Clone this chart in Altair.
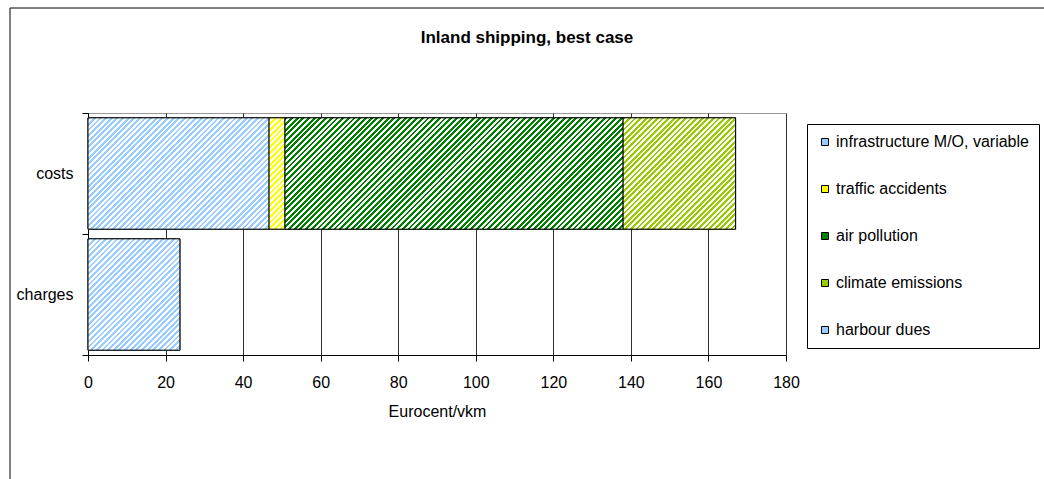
import math

import altair as alt
import pandas as pd

# --- data -----------------------------------------------------------------
title = "Inland shipping, best case"
categories = ["costs", "charges"]
series = [
    "infrastructure M/O, variable",
    "traffic accidents",
    "air pollution",
    "climate emissions",
    "harbour dues",
]
costs = [46.7, 4.1, 87.2, 29.0, 0.0]
charges = [0.0, 0.0, 0.0, 0.0, 23.7]
x_ticks = [0, 20, 40, 60, 80, 100, 120, 140, 160, 180]

# --- style ----------------------------------------------------------------
FONT = "Liberation Sans"
series_colors = ["#99CCFF", "#FFFF00", "#008000", "#99CC00", "#99CCFF"]
PLOT_W, PLOT_H = 698, 242
X_MAX = 180
BAR_BAND = 0.92          # bar thickness as a share of the category band
STRIPE_PERIOD = 4.0      # px, measured across the stripes

rows = []
for cat, vals in zip(categories, [costs, charges]):
    acc = 0.0
    for name, v in zip(series, vals):
        if v > 0:
            rows.append(dict(category=cat, series=name, value=v, start=acc, end=acc + v))
            acc += v
df = pd.DataFrame(rows)

# bar thickness in px, used to keep the hatch at 45 degrees
bar_h = BAR_BAND * PLOT_H / len(categories)
px_per_unit = PLOT_W / X_MAX


def hatch(color, w, h):
    """Diagonal two-colour stripes as a hard-stop linear gradient."""
    s = (w + h) / (w * w + h * h)
    n = max(1, round((w + h) / math.sqrt(2) / STRIPE_PERIOD))
    stops = []
    for i in range(n):
        a, b, c = i / n, (i + 0.5) / n, (i + 1) / n
        stops += [
            alt.GradientStop(offset=a, color=color),
            alt.GradientStop(offset=b, color=color),
            alt.GradientStop(offset=b, color="white"),
            alt.GradientStop(offset=c, color="white"),
        ]
    return alt.LinearGradient(gradient="linear", x1=0, y1=0, x2=w * s, y2=h * s, stops=stops)


x_enc = alt.X(
    "start:Q",
    scale=alt.Scale(domain=[0, X_MAX]),
    axis=alt.Axis(
        values=x_ticks,
        title="Eurocent/vkm",
        grid=True,
        gridColor="#303030",
        gridWidth=1,
        domainColor="black",
        tickColor="black",
        tickSize=6,
        labelPadding=13,
        labelFlush=False,
        titlePadding=13,
    ),
)
y_enc = alt.Y(
    "category:N",
    sort=categories,
    scale=alt.Scale(paddingInner=0, paddingOuter=0),
    axis=alt.Axis(
        title=None,
        tickBand="extent",
        domainColor="black",
        tickColor="black",
        tickSize=6,
        labelPadding=9,
    ),
)
bar_size = alt.RelativeBandSize(band=BAR_BAND)

base = alt.Chart(df).mark_bar(stroke="black", strokeWidth=1, height=bar_size).encode(
    x=x_enc,
    x2="end:Q",
    y=y_enc,
    color=alt.Color(
        "series:N",
        scale=alt.Scale(domain=series, range=series_colors),
        legend=alt.Legend(
            title=None,
            orient="none",
            legendX=719,
            legendY=11,
            strokeColor="black",
            padding=10,
            rowPadding=31,
            labelFontSize=16,
            labelFont=FONT,
            labelColor="black",
            labelLimit=400,
            symbolType="square",
            symbolSize=49,
            symbolStrokeColor="black",
            symbolStrokeWidth=1,
            symbolOpacity=1,
            labelOffset=3,
        ),
    ),
)

layers = [base]
for _, r in df.iterrows():
    color = series_colors[series.index(r["series"])]
    fill = hatch(color, r["value"] * px_per_unit, bar_h)
    layers.append(
        alt.Chart(df)
        .transform_filter((alt.datum.series == r["series"]) & (alt.datum.category == r["category"]))
        .mark_bar(fill=fill, stroke="black", strokeWidth=1, height=bar_size)
        .encode(x="start:Q", x2="end:Q", y=alt.Y("category:N", sort=categories))
    )

# chart title and outer border
heading = alt.Chart(pd.DataFrame({"t": [title]})).mark_text(
    font=FONT, fontSize=17, fontWeight="bold", color="black", align="center", baseline="middle"
).encode(text="t:N", x=alt.value(439), y=alt.value(-75))
frame = alt.Chart(pd.DataFrame({"k": [0]})).mark_rect(
    filled=False, stroke="black", strokeWidth=1
).encode(
    x=alt.value(-78), x2=alt.value(1100), y=alt.value(-105), y2=alt.value(500)
)
layers += [heading, frame]

chart = (
    alt.layer(*layers)
    .properties(
        width=PLOT_W,
        height=PLOT_H,
        autosize=alt.AutoSizeParams(type="none"),
        padding={"left": 88, "top": 113, "right": 258, "bottom": 124},
        background="white",
    )
    .configure_axis(labelFont=FONT, labelFontSize=16, labelColor="black", titleFont=FONT,
                    titleFontSize=16, titleFontWeight="normal", titleColor="black")
    .configure_view(stroke="#9a9a9a", strokeWidth=1)
)

chart.save("out.html", embed_options={"renderer": "svg", "actions": False})
